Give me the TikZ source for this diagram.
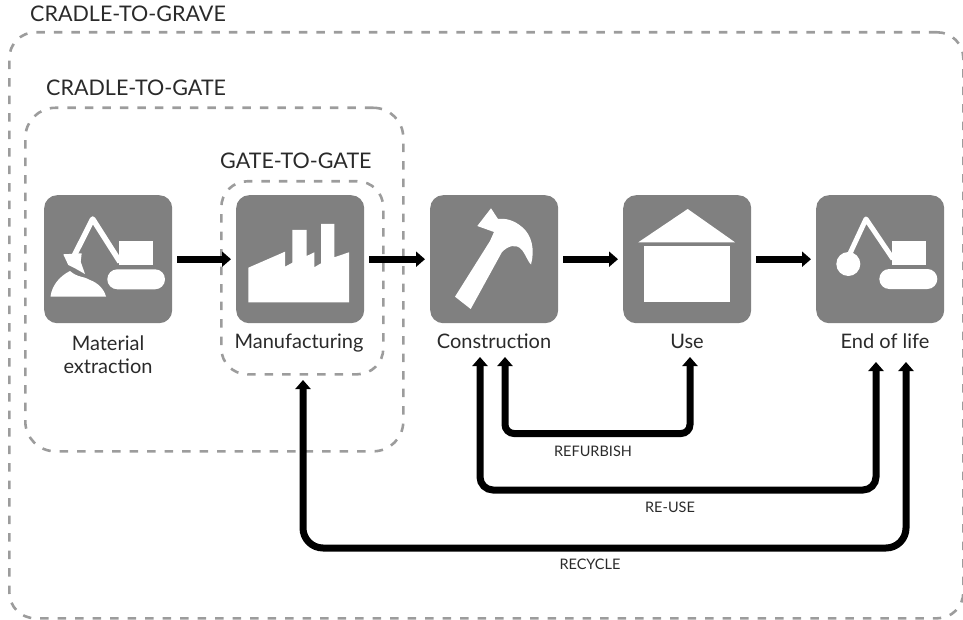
\documentclass[tikz,border=0pt]{standalone}
\usepackage{fontspec}
\setmainfont{Lato}
\usetikzlibrary{arrows.meta}
\definecolor{boxgrey}{HTML}{808080}
\definecolor{dashgrey}{HTML}{9C9C9C}
\definecolor{txt}{HTML}{2A2A2A}
\tikzset{
 stagebox/.style={fill=boxgrey,draw=none,rounded corners=13pt,minimum width=128pt,minimum height=128pt,inner sep=0pt,anchor=north west},
 scopebox/.style={draw=dashgrey,line width=2.6pt,dash pattern=on 8.5pt off 9pt,inner sep=0pt,anchor=north west},
 icon/.style={fill=white,draw=none},
 iconline/.style={draw=white,line width=5.5pt,line join=round},
 flow/.style={line width=7pt,-{Triangle[length=9pt,width=15pt]},shorten <=5pt,shorten >=5pt},
 loopline/.style={line width=7pt,{Triangle[length=9pt,width=15pt]}-{Triangle[length=9pt,width=15pt]}},
 stagelabel/.style={font=\fontsize{20}{23}\selectfont,text=txt,align=center,inner sep=0pt},
 scopelabel/.style={font=\fontsize{21.5}{23}\selectfont,text=txt,anchor=west,inner sep=0pt},
 looplabel/.style={font=\fontsize{14.5}{16}\selectfont,text=txt,inner sep=0pt},
}
\begin{document}
\begin{tikzpicture}[x=1pt,y=-1pt]
\useasboundingbox (0,0) rectangle (963,620);
% scopes
\node[scopebox,rounded corners=26pt,minimum width=954pt,minimum height=586pt] (grave) at (8,31) {};
\node[scopebox,rounded corners=30pt,minimum width=378pt,minimum height=343.5pt] (gate) at (24,106.5) {};
\node[scopebox,rounded corners=26pt,minimum width=162pt,minimum height=193pt] (g2g) at (220,180) {};
\node[scopelabel] (tgrave) at (30,14) {CRADLE-TO-GRAVE};
\node[scopelabel] (tgate) at (46,88) {CRADLE-TO-GATE};
\node[scopelabel] (tg2g) at (220,161) {GATE-TO-GATE};
% stages
\node[stagebox] (mat) at (44,195) {};
\node[stagebox] (man) at (236,195) {};
\node[stagebox] (con) at (430,195) {};
\node[stagebox] (use) at (623,195) {};
\node[stagebox] (eol) at (816,195) {};
% excavator
\fill[icon] (119,240.7) rectangle (152.7,265.3);
\fill[icon,rounded corners=10pt] (107.3,269.3) rectangle (165,289.3);
\draw[iconline] (120,262) -- (92.7,219) -- (74,256);
\fill[icon] (63.3,254.3) -- (81.7,253.3) -- (80.7,261.7) -- (85,274) -- (75,268.3) -- (68.3,265) -- cycle;
\fill[icon] (50.5,296.5) .. controls (52,285) and (60,276) .. (70,271) .. controls (78,278) and (84,276) .. (90,280) .. controls (98,283) and (104,289) .. (106,296.5) -- cycle;
% factory
\fill[icon] (248.3,302.3) -- (248.3,267.7) -- (285,251.7) -- (285,266.7) -- (292.3,262.7) -- (292.3,230) -- (306.7,230) -- (306.7,256) -- (314.3,252.3) -- (314.3,267.3) -- (321,263.3) -- (321,224) -- (334.3,224) -- (334.3,257.3) -- (349,252.3) -- (349,302.3) -- cycle;
% hammer
\fill[icon] (455,296.7) -- (470.7,309) -- (502,252) .. controls (508,246) and (516,243) .. (522,250) .. controls (527,257) and (528,262) .. (531,264.5) .. controls (535,250) and (532,235) .. (522,227) .. controls (514,220) and (505,218) .. (498,219) -- (491,208.3) -- (477.3,226) -- (494,232) -- (490,241) -- cycle;
% house
\fill[icon] (638.3,242.3) -- (687.7,209) -- (735,242.3) -- cycle;
\fill[icon] (643.7,246) rectangle (730.3,301.7);
% wrecking machine
\fill[icon] (891.7,240.7) rectangle (925.7,265);
\fill[icon,rounded corners=10pt] (879.3,269) rectangle (937.3,289);
\draw[iconline,line width=5pt] (893,259) -- (866,219) -- (846,262);
\fill[icon] (848.3,264) circle (12pt);
% labels
\node[stagelabel] (lmat) at (108,354.5) {Material\\extraction};
\node[stagelabel] (lman) at (299,343) {Manufacturing};
\node[stagelabel] (lcon) at (494,341) {Construction};
\node[stagelabel] (luse) at (687,341) {Use};
\node[stagelabel] (leol) at (885,341) {End of life};
% flows
\draw[flow] (mat.east) -- (man.west);
\draw[flow] (man.east) -- (con.west);
\draw[flow] (con.east) -- (use.west);
\draw[flow] (use.east) -- (eol.west);
% loops
\coordinate (rfa) at (505,357);
\coordinate (rfb) at (690,357);
\coordinate (rua) at (480,357);
\coordinate (rub) at (876,362);
\coordinate (rca) at (303,380);
\coordinate (rcb) at (906,362);
\draw[loopline,rounded corners=9pt] (rfa) -- (505,433.5) -- (690,433.5) -- (rfb);
\draw[loopline,rounded corners=13pt] (rua) -- (480,490) -- (876,490) -- (rub);
\draw[loopline,rounded corners=20pt] (rca) -- (303,548) -- (906,548) -- (rcb);
\node[looplabel] (trf) at (593,451) {REFURBISH};
\node[looplabel] (tru) at (670,507) {RE-USE};
\node[looplabel] (trc) at (590,564) {RECYCLE};
\end{tikzpicture}
\end{document}
